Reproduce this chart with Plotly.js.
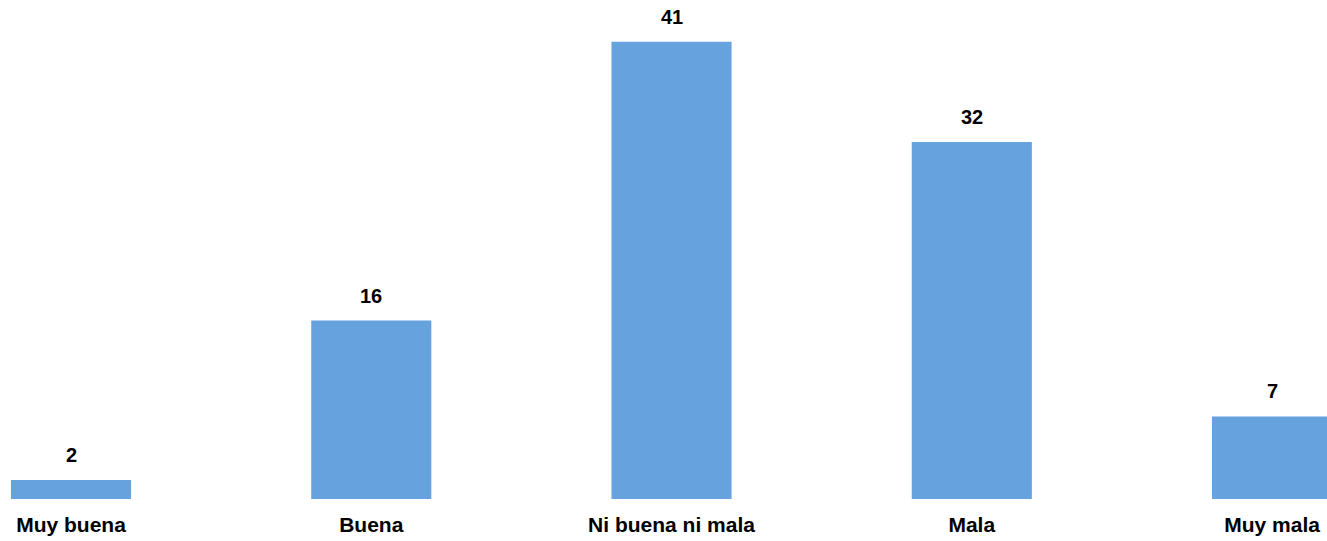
<!DOCTYPE html>
<html>
<head>
<meta charset="utf-8">
<script src="https://cdn.plot.ly/plotly-3.0.1.min.js"></script>
<style>html,body{margin:0;padding:0;background:#fff;}#chart{width:1327px;height:541px;}</style>
</head>
<body>
<div id="chart"></div>
<script>
const categories = ["Muy buena", "Buena", "Ni buena ni mala", "Mala", "Muy mala"];
const values = [1.7, 16, 41, 32, 7.4];

const barColor = "#65A2DE";
const fontFamily = "'Liberation Sans', Arial, sans-serif";
const numFamily = "'Liberation Sans Narrow', 'Arial Narrow', 'Liberation Sans', Arial, sans-serif";

const trace = {
  type: "bar",
  x: categories,
  y: values,
  width: 0.4,
  marker: {color: barColor},
  hoverinfo: "none"
};

const annotations = categories.map((c, i) => ({
  x: c,
  y: values[i],
  xref: "x",
  yref: "y",
  text: String(Math.round(values[i])),
  showarrow: false,
  yanchor: "middle",
  yshift: 25,
  font: {family: numFamily, size: 20, color: "#000", weight: "bold"}
}));

const layout = {
  width: 1327,
  height: 541,
  margin: {l: 0, r: 0, t: 0, b: 42, pad: 0},
  paper_bgcolor: "#fff",
  plot_bgcolor: "#fff",
  showlegend: false,
  xaxis: {
    type: "category",
    range: [-0.2365, 4.183],
    showgrid: false,
    zeroline: false,
    showline: false,
    ticks: "",
    ticklabelstandoff: 11,
    tickfont: {family: fontFamily, size: 21, color: "#000", weight: "bold"},
    fixedrange: true
  },
  yaxis: {
    range: [0, 44.74],
    showgrid: false,
    zeroline: false,
    showline: false,
    showticklabels: false,
    ticks: "",
    fixedrange: true
  },
  annotations: annotations
};

Plotly.newPlot("chart", [trace], layout, {displayModeBar: false, staticPlot: true});
</script>
</body>
</html>
